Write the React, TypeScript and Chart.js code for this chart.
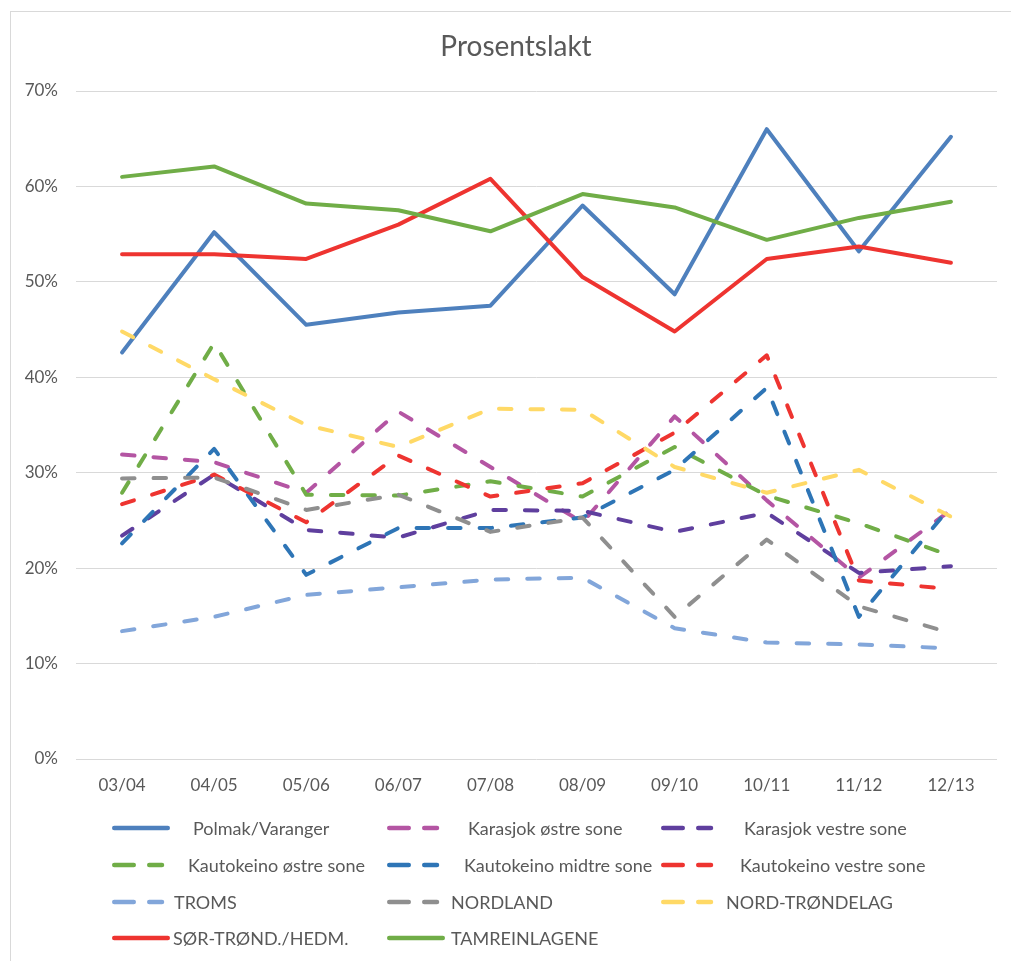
import { useEffect, useRef } from 'react';
import { Chart, registerables } from 'chart.js';

Chart.register(...registerables);

const categories = ['03/04', '04/05', '05/06', '06/07', '07/08', '08/09', '09/10', '10/11', '11/12', '12/13'];

const polmakVaranger = [42.6, 55.2, 45.5, 46.8, 47.5, 58.0, 48.7, 66.0, 53.2, 65.2];
const karasjokOstre = [31.9, 31.1, 27.9, 36.4, 30.6, 24.8, 35.9, 27.1, 19.0, 26.1];
const karasjokVestre = [23.4, 29.8, 24.0, 23.2, 26.1, 26.0, 23.8, 25.8, 19.5, 20.2];
const kautokeinoOstre = [27.9, 43.6, 27.7, 27.6, 29.1, 27.5, 32.7, 27.6, 24.7, 21.3];
const kautokeinoMidtre = [22.6, 32.5, 19.3, 24.2, 24.2, 25.3, 30.3, 38.9, 14.9, 26.5];
const kautokeinoVestre = [26.7, 29.8, 24.8, 31.8, 27.5, 28.9, 34.2, 42.3, 18.7, 17.8];
const troms = [13.4, 14.9, 17.2, 18.0, 18.8, 19.0, 13.7, 12.2, 12.0, 11.6];
const nordland = [29.4, 29.5, 26.1, 27.7, 23.8, 25.3, 14.9, 23.0, 16.0, 13.2];
const nordTrondelag = [44.8, 39.8, 35.0, 32.7, 36.7, 36.6, 30.6, 27.9, 30.3, 25.4];
const sorTrondHedm = [52.9, 52.9, 52.4, 56.0, 60.8, 50.5, 44.8, 52.4, 53.7, 52.0];
const tamreinlagene = [61.0, 62.1, 58.2, 57.5, 55.3, 59.2, 57.8, 54.4, 56.7, 58.4];

const seriesNames = [
  'Polmak/Varanger',
  'Karasjok østre sone',
  'Karasjok vestre sone',
  'Kautokeino østre sone',
  'Kautokeino midtre sone',
  'Kautokeino vestre sone',
  'TROMS',
  'NORDLAND',
  'NORD-TRØNDELAG',
  'SØR-TRØND./HEDM.',
  'TAMREINLAGENE',
];
const seriesValues = [
  polmakVaranger, karasjokOstre, karasjokVestre, kautokeinoOstre, kautokeinoMidtre,
  kautokeinoVestre, troms, nordland, nordTrondelag, sorTrondHedm, tamreinlagene,
];
const seriesColors = [
  '#4E80BD', '#B455A3', '#5F3F9E', '#70AD47', '#2E75B6',
  '#EE3430', '#82A6DA', '#8F8F8F', '#FFD966', '#EE3430', '#70AD47',
];
const seriesDashed = [false, true, true, true, true, true, true, true, true, false, false];

const chartTitle = 'Prosentslakt';
const yMin = 0;
const yMax = 70;
const yStep = 10;

const FONT = 'Lato, "Open Sans", "Noto Sans", sans-serif';
const TEXT = '#595959';
const LINE_W = 4;
const DASH = [12.5, 19];

const legendRowsY = [828, 865, 902, 938];
const legendLineX = [112, 387, 661];
const legendTextX = [
  [193, 468, 744],
  [188, 464, 740],
  [174, 451, 726],
  [173, 451, 726],
];

const framePlugin = {
  id: 'frame',
  beforeDraw(chart: any) {
    const ctx = chart.ctx;
    ctx.save();
    ctx.fillStyle = '#FFFFFF';
    ctx.fillRect(0, 0, chart.width, chart.height);
    ctx.strokeStyle = '#D9D9D9';
    ctx.lineWidth = 1;
    ctx.strokeRect(10.5, 11.5, chart.width + 20, chart.height + 20);
    ctx.fillStyle = TEXT;
    ctx.font = `28px ${FONT}`;
    ctx.textAlign = 'center';
    ctx.textBaseline = 'middle';
    ctx.fillText(chartTitle, 516, 47);
    ctx.restore();
  },
};

const legendPlugin = {
  id: 'gridLegend',
  afterDraw(chart: any) {
    const ctx = chart.ctx;
    chart.data.datasets.forEach((ds: any, i: number) => {
      const r = Math.floor(i / 3);
      const c = i % 3;
      const y = legendRowsY[r];
      const x0 = legendLineX[c];
      ctx.save();
      ctx.strokeStyle = ds.borderColor;
      ctx.lineWidth = 4.5;
      ctx.lineCap = 'round';
      ctx.setLineDash(seriesDashed[i] ? [19.5, 15.5] : []);
      ctx.beginPath();
      ctx.moveTo(x0 + 2.25, y);
      ctx.lineTo(x0 + (seriesDashed[i] ? 50 : 55.75), y);
      ctx.stroke();
      ctx.setLineDash([]);
      ctx.fillStyle = TEXT;
      ctx.font = `18px ${FONT}`;
      ctx.textAlign = 'left';
      ctx.textBaseline = 'middle';
      ctx.fillText(ds.label, legendTextX[r][c], y + 1);
      ctx.restore();
    });
  },
};

export default function App() {
  const ref = useRef<HTMLCanvasElement | null>(null);

  useEffect(() => {
    if (!ref.current) return;
    const datasets = seriesNames.map((name, i) => ({
      label: name,
      data: seriesValues[i],
      borderColor: seriesColors[i],
      backgroundColor: seriesColors[i],
      borderWidth: LINE_W,
      borderDash: seriesDashed[i] ? DASH : [],
      borderCapStyle: 'round' as const,
      borderJoinStyle: 'round' as const,
      pointRadius: 0,
      pointHoverRadius: 0,
      tension: 0,
      fill: false,
      order: seriesNames.length - i,
    }));

    const chart = new Chart(ref.current, {
      type: 'line',
      data: { labels: categories, datasets },
      options: {
        responsive: false,
        animation: false,
        layout: { padding: { left: 10, right: 14, top: 91, bottom: 162 } },
        plugins: {
          legend: { display: false },
          tooltip: { enabled: false },
          title: { display: false },
        },
        scales: {
          x: {
            type: 'category',
            offset: true,
            grid: { display: false, drawTicks: false },
            border: { display: false },
            ticks: {
              color: TEXT,
              font: { family: FONT, size: 17 },
              padding: 16,
              maxRotation: 0,
              autoSkip: false,
            },
            afterFit(scale: any) {
              scale.height = 40;
            },
          },
          y: {
            min: yMin,
            max: yMax,
            grid: { color: '#D9D9D9', lineWidth: 1, drawTicks: false },
            border: { display: false },
            ticks: {
              stepSize: yStep,
              color: TEXT,
              font: { family: FONT, size: 17 },
              padding: 18,
              callback: (v: any) => `${v}%`,
            },
            afterFit(scale: any) {
              scale.width = 66;
            },
          },
        },
      },
      plugins: [framePlugin, legendPlugin],
    });
    return () => chart.destroy();
  }, []);

  return (
    <div style={{ position: 'absolute', left: 0, top: 0, width: 1011, height: 961, background: '#fff' }}>
      <canvas ref={ref} width={1011} height={961} style={{ width: 1011, height: 961, display: 'block' }} />
    </div>
  );
}
